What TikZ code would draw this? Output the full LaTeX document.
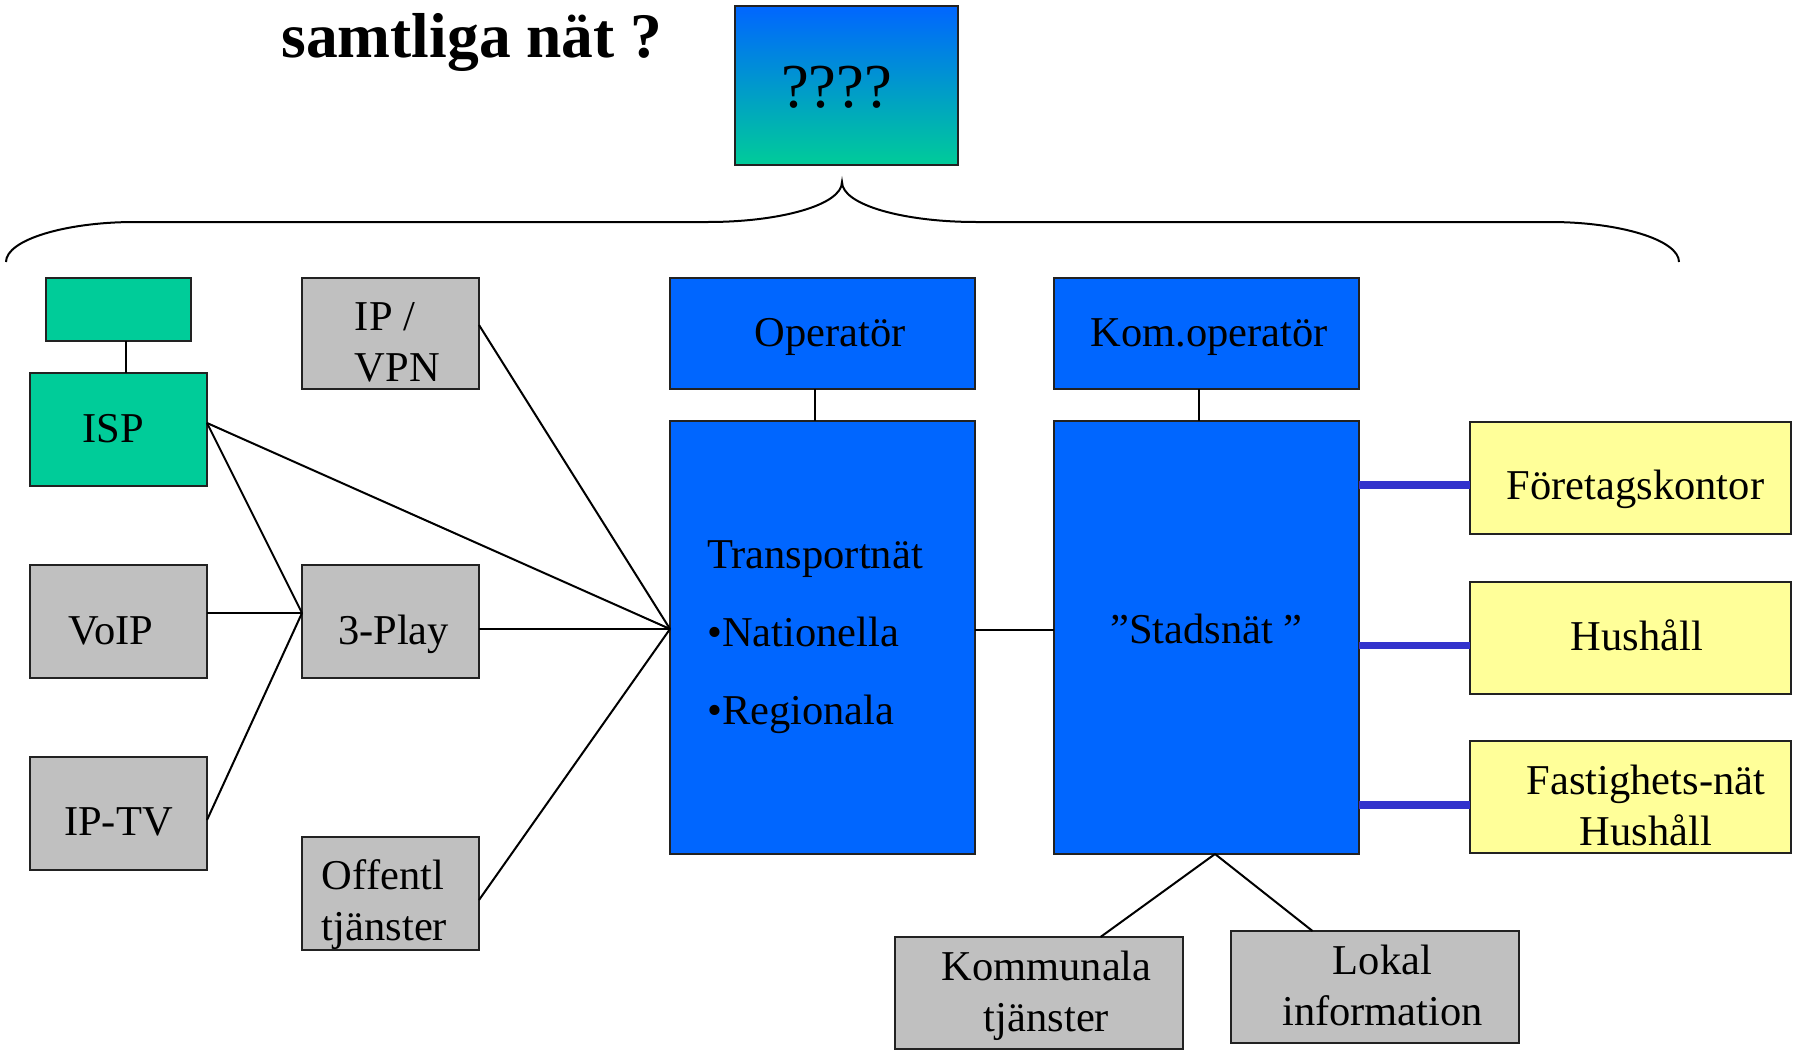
\documentclass[tikz,border=0pt]{standalone}
\usepackage{fontspec}
\setmainfont{Liberation Serif}
\usetikzlibrary{calc}
\definecolor{myblue}{HTML}{0066FF}
\definecolor{mygreen}{HTML}{00CC99}
\definecolor{mygray}{HTML}{C0C0C0}
\definecolor{myyellow}{HTML}{FFFF99}
\definecolor{linkblue}{HTML}{3333CC}
\definecolor{edge}{HTML}{222222}
\begin{document}
\begin{tikzpicture}[x=1pt,y=-1pt,
  box/.style={draw=edge, line width=2.5pt, rectangle, inner sep=0pt, outer sep=0pt,
    anchor=north west, font=\fontsize{42.5}{51}\selectfont},
  wh/.style 2 args={minimum width=#1pt, minimum height=#2pt},
  th/.style={text height=#1pt, text depth=0pt},
  bluebox/.style={box, fill=myblue},
  greenbox/.style={box, fill=mygreen},
  graybox/.style={box, fill=mygray},
  yellowbox/.style={box, fill=myyellow},
  conn/.style={draw=black, line width=2pt},
  link/.style={draw=linkblue, line width=7.5pt},
]
\useasboundingbox[fill=white] (0,0) rectangle (1801,1054);

% title
\node[anchor=base, font=\fontsize{63.5}{70}\selectfont\bfseries] (title) at (472,58) {samtliga nät ?};

% question box
\node[box, wh={223}{159}, top color=myblue, bottom color=mygreen, th=45,
  font=\fontsize{62.5}{70}\selectfont] (q) at (735,6) {\hspace*{-20pt}????};

% brace
\draw[line width=2pt] (6,262) .. controls (6,240) and (65,222) .. (135,222)
  -- (708,222) .. controls (780,222) and (842,205) .. (842,182)
  .. controls (842,205) and (904,222) .. (976,222)
  -- (1550,222) .. controls (1620,222) and (1679,240) .. (1679,262);

% left column
\node[greenbox, wh={145}{63}] (small) at (46,278) {};
\node[greenbox, wh={177}{113}, th=25] (isp) at (30,373) {\hspace*{-11pt}ISP};
\node[graybox, wh={177}{113}, th=45] (voip) at (30,565) {\hspace*{-15pt}VoIP};
\node[graybox, wh={177}{113}, th=43] (iptv) at (30,757) {IP-TV};

% second column
\node[graybox, wh={177}{111}] (ipvpn) at (302,278)
  {\hspace*{14pt}\raisebox{0pt}[0pt][7pt]{\begin{tabular}[t]{@{}l@{}}IP /\\VPN\end{tabular}}};
\node[graybox, wh={177}{113}, th=45] (play) at (302,565) {\hspace*{6pt}3-Play};
\node[graybox, wh={177}{113}] (off) at (302,837)
  {\hspace*{-12pt}\raisebox{0pt}[0pt][9pt]{\begin{tabular}[t]{@{}l@{}}Offentl\\tjänster\end{tabular}}};

% operator column
\node[bluebox, wh={305}{111}, th=25] (op) at (670,278) {\hspace*{15pt}Operatör};
\node[bluebox, wh={305}{433}] (trans) at (670,421)
  {\hspace*{-15pt}\raisebox{0pt}[0pt][139pt]{\begin{tabular}[t]{@{}l@{}}Transportnät\\[27pt]•Nationella\\[27pt]•Regionala\end{tabular}}};

% city network column
\node[bluebox, wh={305}{111}, th=25] (kom) at (1054,278) {\hspace*{5pt}Kom.operatör};
\node[bluebox, wh={305}{433}, th=11] (stad) at (1054,421) {”Stadsnät ”};

% customers
\node[yellowbox, wh={321}{112}, th=42] (fk) at (1470,422) {\hspace*{10pt}Företagskontor};
\node[yellowbox, wh={321}{112}, th=24] (hh) at (1470,582) {\hspace*{13pt}Hushåll};
\node[yellowbox, wh={321}{112}] (fast) at (1470,741)
  {\hspace*{31pt}\raisebox{0pt}[0pt][6pt]{\begin{tabular}[t]{@{}c@{}}Fastighets-nät\\Hushåll\end{tabular}}};

% bottom services
\node[graybox, wh={288}{112}] (komm) at (895,937)
  {\hspace*{15pt}\raisebox{0pt}[0pt][26pt]{\begin{tabular}[t]{@{}c@{}}Kommunala\\tjänster\end{tabular}}};
\node[graybox, wh={288}{112}] (lokal) at (1231,931)
  {\hspace*{15pt}\raisebox{0pt}[0pt][26pt]{\begin{tabular}[t]{@{}c@{}}Lokal\\information\end{tabular}}};

% junction coordinates
\coordinate (ispR) at ($(isp.east)+(0,-6.5)$);
\coordinate (playL) at ($(play.west)+(0,-8.5)$);
\coordinate (playR) at ($(play.east)+(0,7.5)$);
\coordinate (hub) at ($(trans.west)+(0,-8.5)$);
\coordinate (stadB) at ($(stad.south)+(8.5,0)$);

% connectors
\draw[conn] ($(small.south)+(7.5,0)$) -- ($(isp.north)+(7.5,0)$);
\draw[conn] (ispR) -- (playL);
\draw[conn] (ispR) -- (hub);
\draw[conn] (voip.east |- playL) -- (playL);
\draw[conn] ($(iptv.east)+(0,6.5)$) -- (playL);
\draw[conn] (playR) -- (hub);
\draw[conn] ($(ipvpn.east)+(0,-8.5)$) -- (hub);
\draw[conn] ($(off.east)+(0,6.5)$) -- (hub);
\draw[conn] ($(trans.east)+(0,-7.5)$) -- ($(stad.west)+(0,-7.5)$);
\draw[conn] ($(op.south)+(-7.5,0)$) -- ($(trans.north)+(-7.5,0)$);
\draw[conn] ($(kom.south)+(-7.5,0)$) -- ($(stad.north)+(-7.5,0)$);
\draw[conn] (stadB) -- ($(komm.north)+(61.5,0)$);
\draw[conn] (stadB) -- ($(lokal.north)+(-62.5,0)$);

% thick blue links
\coordinate (fkL) at ($(fk.west)+(0,7)$);
\coordinate (hhL) at ($(hh.west)+(0,7.5)$);
\coordinate (fastL) at ($(fast.west)+(0,8)$);
\draw[link] (stad.east |- fkL) -- (fkL);
\draw[link] (stad.east |- hhL) -- (hhL);
\draw[link] (stad.east |- fastL) -- (fastL);
\end{tikzpicture}
\end{document}
